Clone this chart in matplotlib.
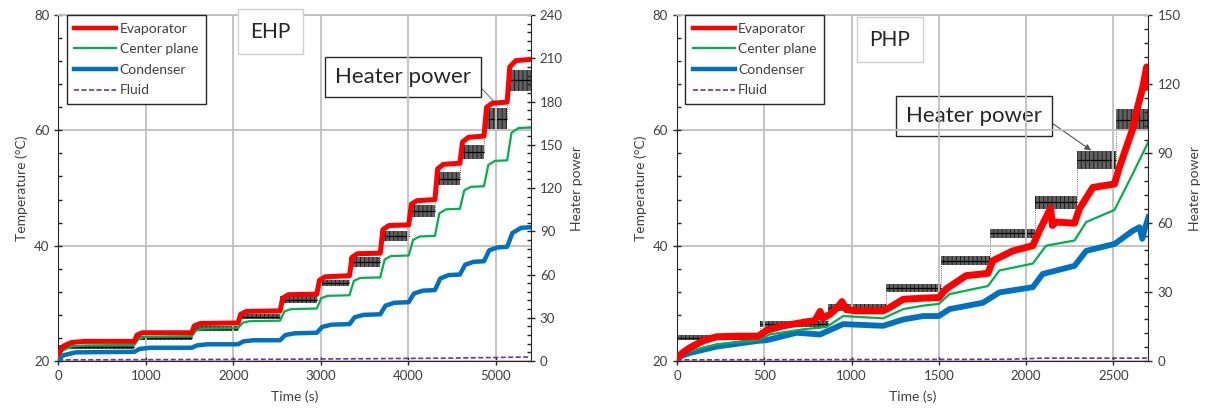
''' Two-panel heat pipe test chart: EHP and PHP temperatures with heater power
    Values read off the reference picture by eye
'''
import numpy as np
import matplotlib
matplotlib.use('Agg')
import matplotlib.pyplot as plt
from matplotlib.ticker import MultipleLocator

plt.rcParams['font.family'] = ['Lato', 'DejaVu Sans']
plt.rcParams['axes.unicode_minus'] = False
plt.rcParams['hatch.linewidth'] = 0.6

# ---------------- EHP (left panel) ----------------
ehp_evap_t = [0, 60, 150, 300, 870, 900, 960, 1525, 1555, 1620, 2055, 2085, 2150,
              2535, 2565, 2630, 2955, 2985, 3050, 3328, 3358, 3420, 3680, 3710, 3780,
              4005, 4035, 4100, 4305, 4335, 4400, 4590, 4620, 4690, 4865, 4895, 4960,
              5130, 5160, 5230, 5400]
ehp_evap_T = [21.2, 22.6, 23.2, 23.4, 23.4, 24.5, 24.9, 24.9, 26.1, 26.5, 26.6, 28.1, 28.6,
              28.7, 30.9, 31.5, 31.6, 34.0, 34.6, 34.8, 38.0, 38.6, 38.7, 42.8, 43.5,
              43.6, 47.2, 47.8, 48.0, 53.3, 54.1, 54.3, 58.0, 58.8, 59.0, 64.0, 64.7,
              64.9, 71.0, 72.1, 72.3]

ehp_center_t = [0, 50, 150, 300, 870, 920, 1000, 1525, 1575, 1650, 2055, 2105, 2180,
                2535, 2585, 2660, 2955, 3005, 3080, 3328, 3378, 3450, 3680, 3730, 3800,
                4005, 4055, 4130, 4305, 4355, 4430, 4590, 4640, 4715, 4865, 4915, 4990,
                5130, 5180, 5260, 5400]
ehp_center_T = [20.6, 21.8, 22.5, 22.7, 22.8, 23.9, 24.2, 24.3, 25.3, 25.6, 25.7, 26.6, 26.9,
                27.0, 28.6, 29.0, 29.1, 30.9, 31.3, 31.4, 33.9, 34.4, 34.5, 37.6, 38.2,
                38.3, 41.0, 41.6, 41.7, 45.6, 46.3, 46.4, 49.6, 50.2, 50.3, 54.0, 54.7,
                54.8, 59.6, 60.4, 60.5]

ehp_cond_t = [0, 60, 200, 870, 930, 1050, 1525, 1585, 1700, 2055, 2115, 2230,
              2535, 2595, 2700, 2955, 3015, 3120, 3328, 3388, 3490, 3680, 3740, 3840,
              4005, 4065, 4165, 4305, 4365, 4460, 4590, 4650, 4745, 4865, 4925, 5020,
              5130, 5190, 5290, 5400]
ehp_cond_T = [20.3, 21.0, 21.5, 21.6, 22.1, 22.3, 22.3, 22.7, 22.9, 22.9, 23.4, 23.6,
              23.6, 24.5, 24.8, 24.9, 25.9, 26.3, 26.4, 27.6, 28.0, 28.1, 29.6, 30.1,
              30.2, 31.7, 32.2, 32.3, 34.3, 34.9, 35.0, 36.7, 37.2, 37.3, 39.2, 39.7,
              39.8, 42.2, 43.1, 43.2]

ehp_fluid_t = [0, 2500, 4500, 5400]
ehp_fluid_T = [20.2, 20.3, 20.5, 20.7]

ehp_heat_start = [0, 870, 1525, 2055, 2535, 2955, 3328, 3680, 4005, 4305, 4590, 4865, 5130]
ehp_heat_level = [9.7, 15.8, 22.5, 30.8, 42.5, 54.0, 68.4, 87.0, 103.9, 126.4, 145.0, 168.0, 194.8]
ehp_heat_noise = [1.5, 1.5, 1.5, 2.0, 2.3, 2.3, 3.5, 3.5, 4.0, 4.6, 5.1, 7.4, 7.4]

# ---------------- PHP (right panel) ----------------
php_evap_t = [0, 40, 74, 150, 227, 342, 466, 513, 609, 723, 790, 820, 835, 876, 920, 945,
              970, 1029, 1181, 1220, 1296, 1410, 1500, 1542, 1656, 1781, 1809, 1924,
              2038, 2076, 2140, 2150, 2172, 2277, 2305, 2382, 2506, 2534, 2611, 2639,
              2668, 2690, 2700]
php_evap_T = [20.6, 21.6, 22.3, 23.5, 24.2, 24.3, 24.3, 25.3, 26.1, 26.7, 27.0, 28.6, 27.4,
              28.1, 29.3, 30.3, 28.9, 28.7, 28.7, 29.3, 30.7, 30.9, 31.0, 32.5, 34.8, 35.2,
              37.4, 39.1, 40.0, 42.6, 46.5, 43.5, 44.1, 43.9, 46.4, 50.1, 50.7, 53.6, 60.3,
              64.1, 67.5, 71.0, 67.5]

php_center_t = [0, 74, 227, 466, 530, 723, 857, 952, 1181, 1296, 1410, 1500, 1561, 1781,
                1847, 2038, 2114, 2277, 2344, 2506, 2611, 2700]
php_center_T = [20.6, 21.7, 22.9, 23.6, 24.6, 25.5, 25.9, 27.8, 27.4, 29.0, 29.6, 29.9, 31.6,
                33.0, 35.7, 36.9, 40.0, 40.9, 44.1, 46.2, 52.5, 58.0]

php_cond_t = [0, 74, 227, 466, 513, 685, 819, 952, 1181, 1296, 1410, 1500, 1561, 1752,
              1847, 2038, 2095, 2277, 2344, 2506, 2611, 2649, 2665, 2680, 2700]
php_cond_T = [20.6, 21.4, 22.5, 23.5, 23.6, 24.9, 24.6, 26.4, 26.1, 27.2, 27.8, 27.8, 29.0,
              30.1, 31.9, 32.8, 35.1, 36.5, 39.1, 40.3, 42.6, 43.2, 41.2, 43.0, 44.9]

php_fluid_t = [0, 1900, 2100, 2700]
php_fluid_T = [20.2, 20.3, 20.5, 20.5]

php_heat_start = [0, 475, 866, 1200, 1513, 1794, 2053, 2290, 2515]
php_heat_level = [10.1, 16.0, 23.0, 31.8, 43.5, 55.3, 68.8, 87.2, 104.6]
php_heat_noise = [1.2, 1.2, 1.5, 1.8, 2.0, 2.0, 2.9, 4.0, 4.5]

RED = '#FF0000'
GREEN = '#00B050'
BLUE = '#0070C0'
PURPLE = '#7030A0'
GRID = '#BFBFBF'
TXT = '#404040'


def style_axes(ax, t_max, t_major):
    ax.set_xlim(0, t_max)
    ax.set_ylim(20, 80)
    ax.xaxis.set_major_locator(MultipleLocator(t_major))
    ax.yaxis.set_major_locator(MultipleLocator(20))
    ax.yaxis.set_minor_locator(MultipleLocator(4))
    ax.grid(True, which='major', color=GRID, lw=1.3)
    ax.set_axisbelow(True)
    ax.tick_params(which='major', direction='inout', length=6, width=1, color='#262626',
                   labelsize=9.5, labelcolor=TXT)
    ax.tick_params(which='minor', direction='in', length=3, width=1, color='#262626')
    for s in ['left', 'bottom']:
        ax.spines[s].set_color('#262626')
    ax.spines['top'].set_color(GRID)
    ax.spines['top'].set_linewidth(1.3)
    ax.spines['right'].set_visible(False)
    ax.set_xlabel('Time (s)', fontsize=10, color=TXT, labelpad=6)
    ax.set_ylabel('Temperature (°C)', fontsize=10, color=TXT, labelpad=4)


def draw_panel(ax, evap, center, cond, fluid, heat, p_max, p_minor, t_max, t_major,
               tag, tag_xy, note_xy, note_target, head, widths):
    style_axes(ax, t_max, t_major)
    ax2 = ax.twinx()
    ax2.set_ylim(0, p_max)
    ax2.yaxis.set_major_locator(MultipleLocator(30))
    ax2.yaxis.set_minor_locator(MultipleLocator(p_minor))
    ax2.tick_params(which='major', direction='inout', length=6, width=1, color='#262626',
                    labelsize=9.5, labelcolor=TXT)
    ax2.tick_params(which='minor', direction='in', length=3, width=1, color='#262626')
    for s in ['left', 'top', 'bottom']:
        ax2.spines[s].set_visible(False)
    ax2.spines['right'].set_color('#262626')
    ax2.set_ylabel('Heater power', fontsize=10, color=TXT, labelpad=6)

    # heater power: step level with a noise band, dotted jumps between levels
    starts, levels, noise = heat
    x = list(starts) + [t_max]
    y = list(levels) + [levels[-1]]
    lo = [v - n for v, n in zip(levels, noise)] + [levels[-1] - noise[-1]]
    hi = [v + n for v, n in zip(levels, noise)] + [levels[-1] + noise[-1]]
    ax2.step(x, y, where='post', color='#444444', lw=0.6, ls=':')
    ax2.fill_between(x, lo, hi, step='post', facecolor='#3a3a3a', alpha=0.8,
                     edgecolor='black', hatch='||||', lw=0)
    ax2.hlines(levels, starts, x[1:], color='black', lw=0.9)

    # temperatures on top of the heater band
    ax.set_zorder(ax2.get_zorder() + 1)
    ax.patch.set_visible(False)
    ax.plot(*fluid, color=PURPLE, lw=1.2, ls='--', dashes=(3, 1.5), label='Fluid', zorder=3)
    ax.plot(*cond, color=BLUE, lw=widths[1], label='Condenser', zorder=4)
    ax.plot(*center, color=GREEN, lw=1.6, label='Center plane', zorder=5)
    ax.plot(*evap, color=RED, lw=widths[0], label='Evaporator', zorder=6)

    h, l = ax.get_legend_handles_labels()
    order = [3, 2, 1, 0]
    leg = ax.legend([h[i] for i in order], [l[i] for i in order], loc='upper left',
                    bbox_to_anchor=(0.018, 1.0), borderaxespad=0, fontsize=10,
                    handlelength=3.0, handletextpad=0.25, labelspacing=0.62,
                    fancybox=False, framealpha=1, edgecolor='#262626', borderpad=0.55)
    leg.get_frame().set_linewidth(1.0)
    leg.legend_handles[0].set_linewidth(3.2)
    leg.legend_handles[2].set_linewidth(3.2)
    for t in leg.get_texts():
        t.set_color(TXT)

    ax.text(tag_xy[0], tag_xy[1], tag, transform=ax.transAxes, fontsize=15, color='#262626',
            ha='center', va='center', zorder=10,
            bbox=dict(boxstyle='square,pad=0.6', fc='white', ec='#D0D0D0', lw=1))

    if head:
        props = dict(arrowstyle='-|>', color='#555555', lw=0.8, mutation_scale=9,
                     relpos=(1, 0.5), shrinkA=0, shrinkB=0)
    else:
        props = dict(arrowstyle='-', color='#777777', lw=0.8, relpos=(1, 0.5),
                     shrinkA=0, shrinkB=0)
    ax2.annotate('Heater power', xy=note_target, xycoords='data', xytext=note_xy,
                 textcoords=ax.transAxes, fontsize=16, color='#262626',
                 ha='center', va='center', zorder=10, arrowprops=props,
                 bbox=dict(boxstyle='square,pad=0.45', fc='white', ec='#262626', lw=1))
    return ax2


fig = plt.figure(figsize=(12.11, 4.15), dpi=100)
ax_l = fig.add_axes([0.0481, 0.1301, 0.3902, 0.8337])
ax_r = fig.add_axes([0.5590, 0.1301, 0.3893, 0.8337])

draw_panel(ax_l, (ehp_evap_t, ehp_evap_T), (ehp_center_t, ehp_center_T),
           (ehp_cond_t, ehp_cond_T), (ehp_fluid_t, ehp_fluid_T),
           (ehp_heat_start, ehp_heat_level, ehp_heat_noise),
           240, 6, 5400, 1000, 'EHP', (0.449, 0.951), (0.729, 0.821), (5011, 178), False,
           (3.6, 3.2))

draw_panel(ax_r, (php_evap_t, php_evap_T), (php_center_t, php_center_T),
           (php_cond_t, php_cond_T), (php_fluid_t, php_fluid_T),
           (php_heat_start, php_heat_level, php_heat_noise),
           150, 6, 2700, 500, 'PHP', (0.452, 0.929), (0.630, 0.708), (2372, 91.3), True,
           (5.0, 4.2))

fig.savefig('out.png', dpi=100)
